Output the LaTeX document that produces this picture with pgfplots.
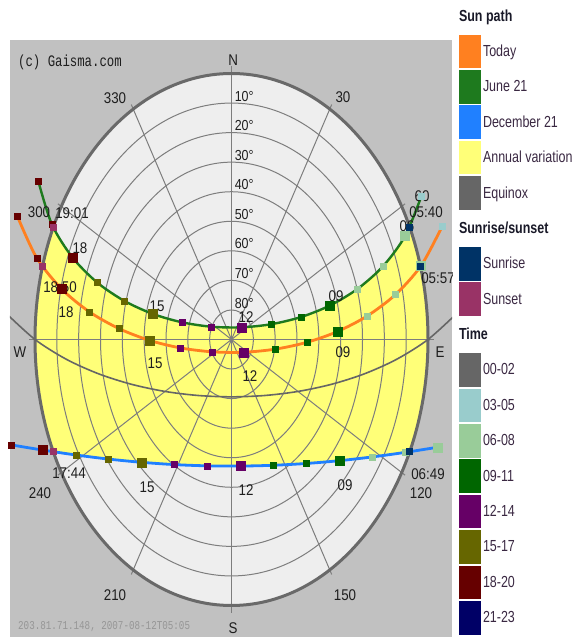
\documentclass[border=0pt]{standalone}
\usepackage{fontspec}
\setmainfont{Liberation Sans}
\usepackage{pgfplots}
\pgfplotsset{compat=1.18}
\newfontfamily\labfont[FakeStretch=0.86]{Liberation Sans}
\newfontfamily\legfontfam[FakeStretch=0.78]{Liberation Sans}
\newfontfamily\gaisfam[FakeStretch=0.77]{Liberation Mono}
\newcommand\lab{\labfont\fontsize{15.5bp}{17bp}\selectfont}
\newcommand\alab{\labfont\fontsize{14.5bp}{16bp}\selectfont}
\newcommand\leg{\legfontfam\fontsize{16bp}{18bp}\selectfont}
\newcommand\gais{\gaisfam\fontsize{16bp}{18bp}\selectfont}
\newcommand\gaissmall{\gaisfam\fontsize{12bp}{14bp}\selectfont}

\definecolor{panel}{RGB}{193,193,193}
\definecolor{disk}{RGB}{238,238,238}
\definecolor{ringc}{RGB}{125,125,125}
\definecolor{rimc}{RGB}{105,105,105}
\definecolor{todayc}{RGB}{255,128,32}
\definecolor{junec}{RGB}{30,122,30}
\definecolor{decc}{RGB}{32,128,255}
\definecolor{annc}{RGB}{255,255,120}
\definecolor{equic}{RGB}{102,102,102}
\definecolor{risec}{RGB}{0,51,102}
\definecolor{setc}{RGB}{153,51,102}
\definecolor{tA}{RGB}{102,102,102}
\definecolor{tB}{RGB}{153,204,204}
\definecolor{tC}{RGB}{153,204,153}
\definecolor{tD}{RGB}{0,102,0}
\definecolor{tE}{RGB}{102,0,102}
\definecolor{tF}{RGB}{102,102,0}
\definecolor{tG}{RGB}{102,0,0}
\definecolor{tH}{RGB}{0,0,102}
\definecolor{labc}{RGB}{30,30,30}
\definecolor{legc}{RGB}{58,40,66}
\definecolor{headc}{RGB}{25,25,40}
\definecolor{ipc}{RGB}{150,150,150}

\pgfplotsset{
  swatch/.style={legend image code/.code={\fill[#1, draw=none] (0bp,-16.75bp) rectangle (22bp,16.75bp);}},
  lhead/.style={legend image code/.code={\path[draw=none, fill=none] (0bp,-16.75bp) rectangle (22bp,16.75bp);
      \node[overlay,anchor=west,inner sep=0pt,draw=none,font=\leg\bfseries,text=headc] at (0bp,0bp) {#1};}},
  small/.style={only marks, mark=square*, mark size=3bp, forget plot},
  big/.style={only marks, mark=square*, mark size=4.5bp, forget plot},
}

\begin{document}
\begin{tikzpicture}
\path[use as bounding box] (-10bp,0bp) rectangle (574bp,637bp);
\begin{axis}[
  scale only axis, width=442bp, height=597bp,
  xmin=-1.12723, xmax=1.12214, ymin=-1.11842, ymax=1.12594,
  axis line style={draw=none}, xtick=\empty, ytick=\empty,
  axis background/.style={fill=panel},
  legend cell align=left,
  legend style={at={(axis description cs:1.01584,1.0683)}, anchor=north west,
    draw=none, fill=none, inner sep=0pt, outer sep=0pt,
    row sep=1.9bp, column sep=0pt, font=\leg, text=legc,
    nodes={inner sep=2bp}},
]
% legend
\addlegendimage{lhead=Sun path}\addlegendentry{}
\addlegendimage{swatch=todayc}\addlegendentry{Today}
\addlegendimage{swatch=junec}\addlegendentry{June 21}
\addlegendimage{swatch=decc}\addlegendentry{December 21}
\addlegendimage{swatch=annc}\addlegendentry{Annual variation}
\addlegendimage{swatch=equic}\addlegendentry{Equinox}
\addlegendimage{lhead=Sunrise/sunset}\addlegendentry{}
\addlegendimage{swatch=risec}\addlegendentry{Sunrise}
\addlegendimage{swatch=setc}\addlegendentry{Sunset}
\addlegendimage{lhead=Time}\addlegendentry{}
\addlegendimage{swatch=tA}\addlegendentry{00-02}
\addlegendimage{swatch=tB}\addlegendentry{03-05}
\addlegendimage{swatch=tC}\addlegendentry{06-08}
\addlegendimage{swatch=tD}\addlegendentry{09-11}
\addlegendimage{swatch=tE}\addlegendentry{12-14}
\addlegendimage{swatch=tF}\addlegendentry{15-17}
\addlegendimage{swatch=tG}\addlegendentry{18-20}
\addlegendimage{swatch=tH}\addlegendentry{21-23}

% sky disk
\fill[disk] (axis cs:0,0) ellipse [x radius=1, y radius=1];

% annual variation band
\addplot[fill=annc, draw=none, forget plot] coordinates {
 (0.9066,0.4218) (0.8832,0.3888) (0.7711,0.2754) (0.6417,0.1904) (0.5016,0.1281)
 (0.3551,0.0848) (0.2043,0.0577) (0.0519,0.0458) (-0.1011,0.0480) (-0.2531,0.0648)
 (-0.4024,0.0967) (-0.5472,0.1458) (-0.6845,0.2149) (-0.8091,0.3083) (-0.9066,0.4218)
 (-0.9397,0.3420) (-0.9659,0.2588) (-0.9848,0.1736) (-0.9962,0.0872) (-1,0)
 (-0.9962,-0.0872) (-0.9848,-0.1736) (-0.9659,-0.2588) (-0.9397,-0.3420) (-0.9066,-0.4218)
 (-0.7922,-0.4341) (-0.6256,-0.4496) (-0.4579,-0.4617) (-0.2901,-0.4703) (-0.1221,-0.4750)
 (0.0453,-0.4758) (0.2142,-0.4728) (0.3820,-0.4660) (0.5497,-0.4555) (0.7167,-0.4415)
 (0.8832,-0.4244) (0.9066,-0.4218)
 (0.9397,-0.3420) (0.9659,-0.2588) (0.9848,-0.1736) (0.9962,-0.0872) (1,0)
 (0.9962,0.0872) (0.9848,0.1736) (0.9659,0.2588) (0.9397,0.3420)
} -- cycle;

% grid
\draw[ringc, line width=1bp] (axis cs:0,0) ellipse [x radius=0.1111, y radius=0.1111];
\draw[ringc, line width=1bp] (axis cs:0,0) ellipse [x radius=0.2222, y radius=0.2222];
\draw[ringc, line width=1bp] (axis cs:0,0) ellipse [x radius=0.3333, y radius=0.3333];
\draw[ringc, line width=1bp] (axis cs:0,0) ellipse [x radius=0.4444, y radius=0.4444];
\draw[ringc, line width=1bp] (axis cs:0,0) ellipse [x radius=0.5556, y radius=0.5556];
\draw[ringc, line width=1bp] (axis cs:0,0) ellipse [x radius=0.6667, y radius=0.6667];
\draw[ringc, line width=1bp] (axis cs:0,0) ellipse [x radius=0.7778, y radius=0.7778];
\draw[ringc, line width=1bp] (axis cs:0,0) ellipse [x radius=0.8889, y radius=0.8889];
\draw[ringc, line width=1bp] (axis cs:0,1.03) -- (axis cs:0,-1.03);
\draw[ringc, line width=1bp] (axis cs:1.03,0) -- (axis cs:-1.03,0);
\draw[ringc, line width=1bp] (axis cs:0.51,0.8833) -- (axis cs:-0.51,-0.8833);
\draw[ringc, line width=1bp] (axis cs:0.8833,0.51) -- (axis cs:-0.8833,-0.51);
\draw[ringc, line width=1bp] (axis cs:0.8833,-0.51) -- (axis cs:-0.8833,0.51);
\draw[ringc, line width=1bp] (axis cs:0.51,-0.8833) -- (axis cs:-0.51,0.8833);
\draw[rimc, line width=3bp] (axis cs:0,0) ellipse [x radius=1, y radius=1];

% equinox
\addplot[equic, line width=1.6bp, smooth, forget plot] coordinates {
 (1.1525,0.1024) (1,0) (0.8397,-0.0747) (0.6750,-0.1294) (0.5080,-0.1686)
 (0.3393,-0.1952) (0.1698,-0.2105) (0,-0.2156) (-0.1698,-0.2105) (-0.3393,-0.1952)
 (-0.5080,-0.1686) (-0.6750,-0.1294) (-0.8397,-0.0747) (-1,0) (-1.1525,0.1024)
};
% December 21
\addplot[decc, line width=2.8bp, smooth, forget plot] coordinates {
 (1.0488,-0.4051) (0.8832,-0.4244) (0.7167,-0.4415) (0.5497,-0.4555) (0.3820,-0.4660)
 (0.2142,-0.4728) (0.0453,-0.4758) (-0.1221,-0.4750) (-0.2901,-0.4703) (-0.4579,-0.4617)
 (-0.6256,-0.4496) (-0.7922,-0.4341) (-0.9584,-0.4159) (-1.1233,-0.3960)
};
% June 21
\addplot[junec, line width=2.4bp, smooth, forget plot] coordinates {
 (0.966,0.538) (0.8832,0.3888) (0.7711,0.2754) (0.6417,0.1904) (0.5016,0.1281)
 (0.3551,0.0848) (0.2043,0.0577) (0.0519,0.0458) (-0.1011,0.0480) (-0.2531,0.0648)
 (-0.4024,0.0967) (-0.5472,0.1458) (-0.6845,0.2149) (-0.8091,0.3083) (-0.9137,0.4322)
 (-0.9830,0.5949)
};
% Today
\addplot[todayc, line width=2.8bp, smooth, forget plot] coordinates {
 (1.0719,0.4254) (0.9652,0.2780) (0.8348,0.1691) (0.6910,0.0886) (0.5394,0.0300)
 (0.3830,-0.0107) (0.2240,-0.0361) (0.0635,-0.0479) (-0.0989,-0.0463) (-0.2590,-0.0318)
 (-0.4177,-0.0032) (-0.5732,0.0412) (-0.7236,0.1042) (-0.8650,0.1904) (-0.9912,0.3068)
 (-1.0904,0.4644)
};

% hour markers
\addplot[small, tB] coordinates {(0.966,0.538) (1.0719,0.4254)};
\addplot[big, tC] coordinates {(0.8832,0.3888) (0.9652,0.2780) (1.0488,-0.4051)};
\addplot[small, tC] coordinates {(0.7711,0.2754) (0.6417,0.1904) (0.8348,0.1691) (0.6910,0.0886) (0.8832,-0.4244) (0.7167,-0.4415)};
\addplot[big, tD] coordinates {(0.5016,0.1281) (0.5394,0.0300) (0.5497,-0.4555)};
\addplot[small, tD] coordinates {(0.3551,0.0848) (0.2043,0.0577) (0.3830,-0.0107) (0.2240,-0.0361) (0.3820,-0.4660) (0.2142,-0.4728)};
\addplot[big, tE] coordinates {(0.0519,0.0458) (0.0635,-0.0479) (0.0453,-0.4758)};
\addplot[small, tE] coordinates {(-0.1011,0.0480) (-0.2531,0.0648) (-0.0989,-0.0463) (-0.2590,-0.0318) (-0.1221,-0.4750) (-0.2901,-0.4703)};
\addplot[big, tF] coordinates {(-0.4024,0.0967) (-0.4177,-0.0032) (-0.4579,-0.4617)};
\addplot[small, tF] coordinates {(-0.5472,0.1458) (-0.6845,0.2149) (-0.5732,0.0412) (-0.7236,0.1042) (-0.6256,-0.4496) (-0.7922,-0.4341)};
\addplot[big, tG] coordinates {(-0.8091,0.3083) (-0.8650,0.1904) (-0.9584,-0.4159)};
\addplot[small, tG] coordinates {(-0.9137,0.4322) (-0.9830,0.5949) (-0.9912,0.3068) (-1.0904,0.4644) (-1.1233,-0.3960)};
% sunrise / sunset
\addplot[small, risec] coordinates {(0.9066,0.4218) (0.9616,0.2744) (0.9066,-0.4218)};
\addplot[small, setc] coordinates {(-0.9066,0.4218) (-0.9616,0.2744) (-0.9066,-0.4218)};

% compass and azimuth labels
\begin{scope}[every node/.style={font=\lab, text=labc, inner sep=0pt}]
\node at (axis cs:0.008,1.0508) {N};
\node at (axis cs:0.008,-1.0846) {S};
\node at (axis cs:-1.0763,-0.047) {W};
\node at (axis cs:1.0611,-0.047) {E};
\node at (axis cs:-0.5929,0.9079) {330};
\node at (axis cs:0.5674,0.9117) {30};
\node at (axis cs:-0.9796,0.4793) {300};
\node at (axis cs:0.9700,0.5400) {60};
\node at (axis cs:-0.9746,-0.5771) {240};
\node at (axis cs:0.9644,-0.5771) {120};
\node at (axis cs:-0.5929,-0.9605) {210};
\node at (axis cs:0.5776,-0.9605) {150};
\node at (axis cs:0.8931,0.4267) {06};
\node at (axis cs:0.5318,0.1635) {09};
\node at (axis cs:0.0738,0.0846) {12};
\node at (axis cs:-0.3791,0.1259) {15};
\node at (axis cs:-0.7710,0.3440) {18};
\node at (axis cs:-0.8117,0.4756) {19:01};
\node at (axis cs:0.9898,0.4793) {05:40};
\node at (axis cs:0.5674,-0.0470) {09};
\node at (axis cs:0.0941,-0.1372) {12};
\node at (axis cs:-0.3893,-0.0883) {15};
\node at (axis cs:-0.8422,0.1034) {18};
\node at (axis cs:-0.8728,0.1974) {18:50};
\node at (axis cs:1.0509,0.2312) {05:57};
\node at (axis cs:-0.8270,-0.5019) {17:44};
\node at (axis cs:-0.4300,-0.5545) {15};
\node at (axis cs:0.0738,-0.5658) {12};
\node at (axis cs:0.5776,-0.5470) {09};
\node at (axis cs:1.0,-0.5056) {06:49};
\end{scope}
% altitude labels
\begin{scope}[every node/.style={font=\alab, text=labc, anchor=south west, inner sep=1.5bp}]
\node at (axis cs:0.008,0.8889) {10°};
\node at (axis cs:0.008,0.7778) {20°};
\node at (axis cs:0.008,0.6667) {30°};
\node at (axis cs:0.008,0.5556) {40°};
\node at (axis cs:0.008,0.4444) {50°};
\node at (axis cs:0.008,0.3333) {60°};
\node at (axis cs:0.008,0.2222) {70°};
\node at (axis cs:0.008,0.1111) {80°};
\end{scope}
\node[anchor=west, inner sep=0pt, font=\gais, text=labc] at (axis cs:-1.0865,1.0432) {(c) Gaisma.com};
\node[anchor=west, inner sep=0pt, font=\gaissmall, text=ipc] at (axis cs:-1.0865,-1.0808) {203.81.71.148, 2007-08-12T05:05};
\end{axis}
\end{tikzpicture}
\end{document}
